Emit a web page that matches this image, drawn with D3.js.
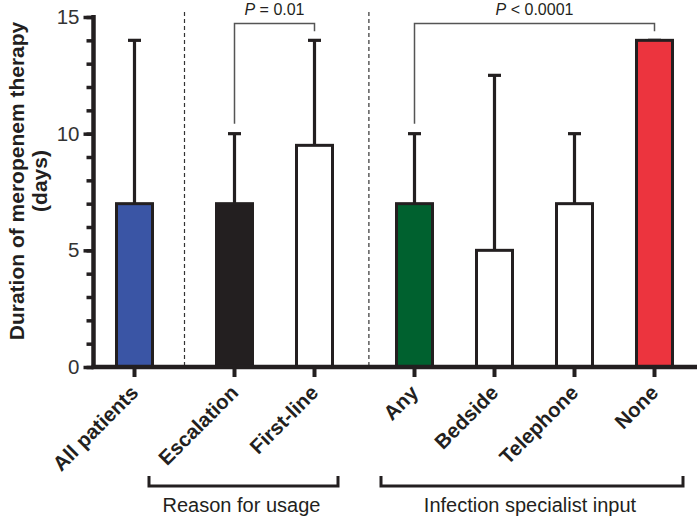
<!DOCTYPE html>
<html><head><meta charset="utf-8">
<script src="https://cdn.jsdelivr.net/npm/d3@7"></script>
<style>body{margin:0;background:#fff}svg{display:block}text{font-family:"Liberation Sans",Arial,Helvetica,sans-serif}</style>
</head><body>
<svg id="c" width="697" height="517"></svg>
<script>
const categories = ["All patients","Escalation","First-line","Any","Bedside","Telephone","None"];
const groupOf = [0,1,1,2,2,2,2];
const values = [7,7,9.5,7,5,7,14];
const errUpper = [14,10,14,10,12.5,10,14];
const fills = ["#3a55a5","#231f20","#ffffff","#00612f","#ffffff","#ffffff","#ec343e"];
const yMajorTicks = [0,5,10,15];
const groupLabels = ["Reason for usage","Infection specialist input"];
const comparisons = [{a:1,b:2,label:"0.01",op:"="},{a:3,b:6,label:"0.0001",op:"<"}];

const svg = d3.select("#c");
const ink = "#231f20";
const slot = i => i + groupOf[i]*0.25;
const x = d3.scaleLinear().domain([0,6.5]).range([134.5,654.5]);
const y = d3.scaleLinear().domain([0,15]).range([367,17]);
const axX = 93.5;
const barW = 36;

// dashed separators
[0.625, 2.93].forEach(s=>{
  svg.append("line").attr("x1",x(s)).attr("x2",x(s)).attr("y1",12).attr("y2",y(0))
    .attr("stroke","#333").attr("stroke-width",1.2).attr("stroke-dasharray","4,3");
});

// error bars
categories.forEach((c,i)=>{
  const cx = x(slot(i));
  svg.append("line").attr("x1",cx).attr("x2",cx).attr("y1",y(values[i])).attr("y2",y(errUpper[i]))
    .attr("stroke",ink).attr("stroke-width",3.2);
  svg.append("line").attr("x1",cx-6.5).attr("x2",cx+6.5).attr("y1",y(errUpper[i])).attr("y2",y(errUpper[i]))
    .attr("stroke",ink).attr("stroke-width",3.2);
});

// bars
svg.selectAll("rect.bar").data(categories).join("rect").attr("class","bar")
  .attr("x",(d,i)=>x(slot(i))-barW/2).attr("width",barW)
  .attr("y",(d,i)=>y(values[i])).attr("height",(d,i)=>y(0)-y(values[i]))
  .attr("fill",(d,i)=>fills[i]).attr("stroke",ink).attr("stroke-width",3);

// y axis
const gy = svg.append("g").attr("transform",`translate(${axX},0)`);
gy.call(d3.axisLeft(y).tickValues(d3.range(0,16)).tickSize(7).tickFormat(""));
gy.selectAll(".tick line").attr("stroke",ink).attr("stroke-width",3.5);
gy.select(".domain").remove();
const gy2 = svg.append("g").attr("transform",`translate(${axX},0)`);
gy2.call(d3.axisLeft(y).tickValues(yMajorTicks).tickSize(10).tickPadding(4).tickFormat(d3.format("d")));
gy2.selectAll(".tick line").attr("stroke",ink).attr("stroke-width",3.5);
gy2.selectAll(".tick text").attr("font-size",20.5).attr("fill","#333").attr("font-family",'"Liberation Sans",Arial,sans-serif');
gy2.select(".domain").remove();
svg.append("line").attr("x1",axX).attr("x2",axX).attr("y1",15).attr("y2",y(0)+2)
  .attr("stroke",ink).attr("stroke-width",4.5);

// x axis
svg.append("line").attr("x1",axX-2).attr("x2",697).attr("y1",y(0)).attr("y2",y(0))
  .attr("stroke",ink).attr("stroke-width",4.5);
categories.forEach((c,i)=>{
  const cx = x(slot(i));
  svg.append("line").attr("x1",cx).attr("x2",cx).attr("y1",y(0)).attr("y2",y(0)+10)
    .attr("stroke",ink).attr("stroke-width",4);
  svg.append("text").attr("transform",`translate(${cx+5},${y(0)+27}) rotate(-45)`)
    .attr("text-anchor","end").attr("font-size",20.5).attr("font-weight","bold").attr("fill",ink).text(c);
});

// y title
const yt = svg.append("text").attr("transform","translate(0,181) rotate(-90)")
  .attr("text-anchor","middle").attr("font-size",21).attr("font-weight","bold").attr("fill",ink);
yt.append("tspan").attr("x",0).attr("y",24).text("Duration of meropenem therapy");
yt.append("tspan").attr("x",0).attr("y",47).text("(days)");

// group brackets
const gb = [[149,338],[381,683]];
gb.forEach((b,k)=>{
  svg.append("path").attr("d",`M${b[0]},476V486H${b[1]}V476`).attr("fill","none")
    .attr("stroke",ink).attr("stroke-width",3);
  svg.append("text").attr("x",(b[0]+b[1])/2-2).attr("y",512).attr("text-anchor","middle")
    .attr("font-size",20).attr("fill",ink).text(groupLabels[k]);
});

// significance brackets
comparisons.forEach(cmp=>{
  const xa = x(slot(cmp.a)), xb = x(slot(cmp.b));
  const top = 23.5;
  const ya = y(errUpper[cmp.a]) - 10, yb = y(errUpper[cmp.b]) - 9;
  svg.append("path").attr("d",`M${xa},${ya}V${top}H${xb}V${yb}`).attr("fill","none")
    .attr("stroke","#555").attr("stroke-width",1.5);
  const t = svg.append("text").attr("x",(xa+xb)/2).attr("y",14.5).attr("text-anchor","middle")
    .attr("font-size",16).attr("fill",ink);
  t.append("tspan").attr("font-style","italic").text("P");
  t.append("tspan").text(` ${cmp.op} ${cmp.label}`);
});
</script>
</body></html>
